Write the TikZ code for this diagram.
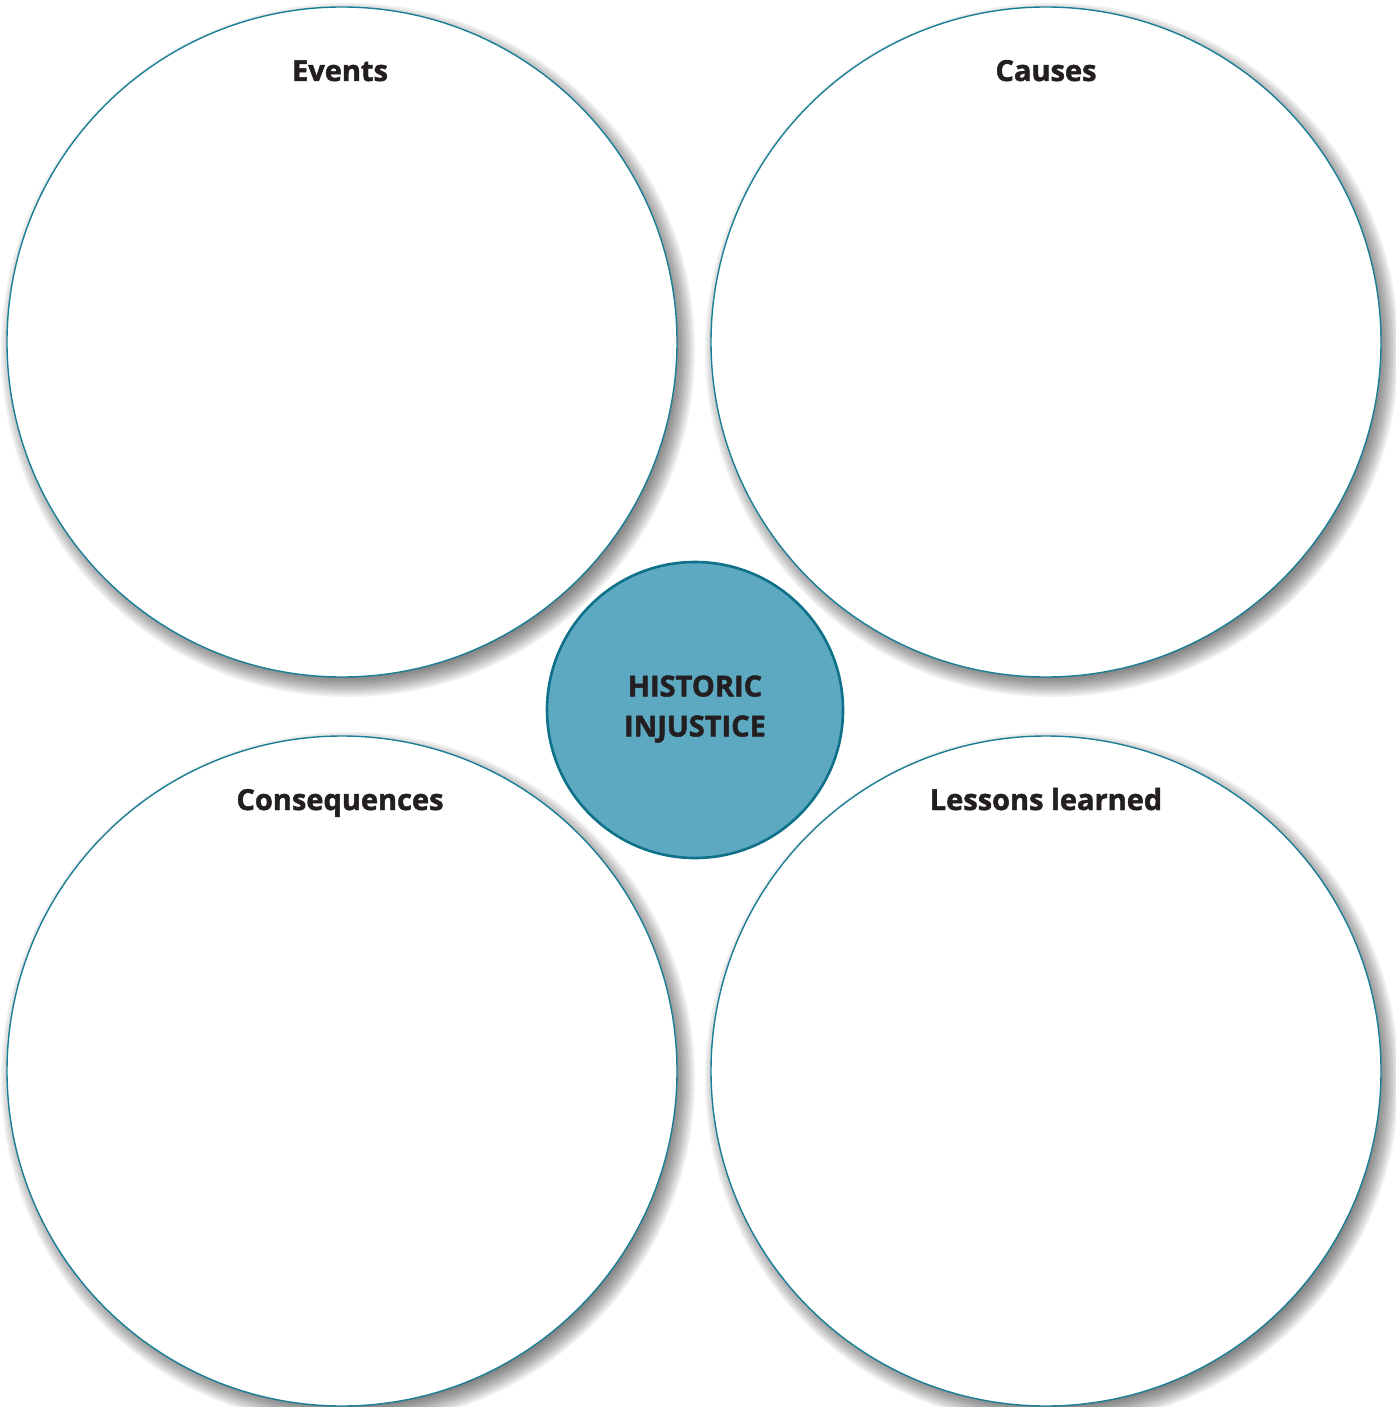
\documentclass[tikz,border=0pt]{standalone}
\usepackage{fontspec}
\setmainfont{Open Sans}[BoldFeatures={FakeBold=1.6}]
\definecolor{ringc}{HTML}{1A7E97}
\definecolor{hubfill}{HTML}{5CA9C1}
\definecolor{hubline}{HTML}{0E7089}
\definecolor{txt}{HTML}{231F20}
\tikzset{
  bigc/.style={circle, draw=ringc, line width=1.4pt, fill=white, minimum size=670pt, inner sep=0pt},
  shadowring/.style={fill=black, fill opacity=0.06},
  hub/.style={circle, draw=hubline, line width=2.6pt, fill=hubfill, minimum size=296pt, inner sep=0pt},
  lab/.style={anchor=base, font=\bfseries\fontsize{29}{34}\selectfont, text=txt, inner sep=0pt},
  hublab/.style={align=center, font=\bfseries\fontsize{29}{40}\selectfont, text=txt, inner sep=0pt}
}
\begin{document}
\begin{tikzpicture}[x=1pt,y=-1pt]
\useasboundingbox (0,0) rectangle (1396,1407);
\foreach \cx/\cy in {342/342,1046/342,342/1071,1046/1071}{
  \foreach \r in {323,325,...,347}{
    \fill[shadowring] (\cx+6,\cy+8) circle[radius=\r];
  }
}
\node[bigc] (ev) at (342,342) {};
\node[bigc] (ca) at (1046,342) {};
\node[bigc] (co) at (342,1071) {};
\node[bigc] (le) at (1046,1071) {};
\node[hub] (hi) at (695,710) {};
\node[lab] (evt) at (340,81) {Events};
\node[lab] (cat) at (1046,81) {Causes};
\node[lab] (cot) at (340,810) {Consequences};
\node[lab] (let) at (1046,810) {Lessons learned};
\node[hublab] (hit) at (695,709) {HISTORIC\\INJUSTICE};
\end{tikzpicture}
\end{document}
